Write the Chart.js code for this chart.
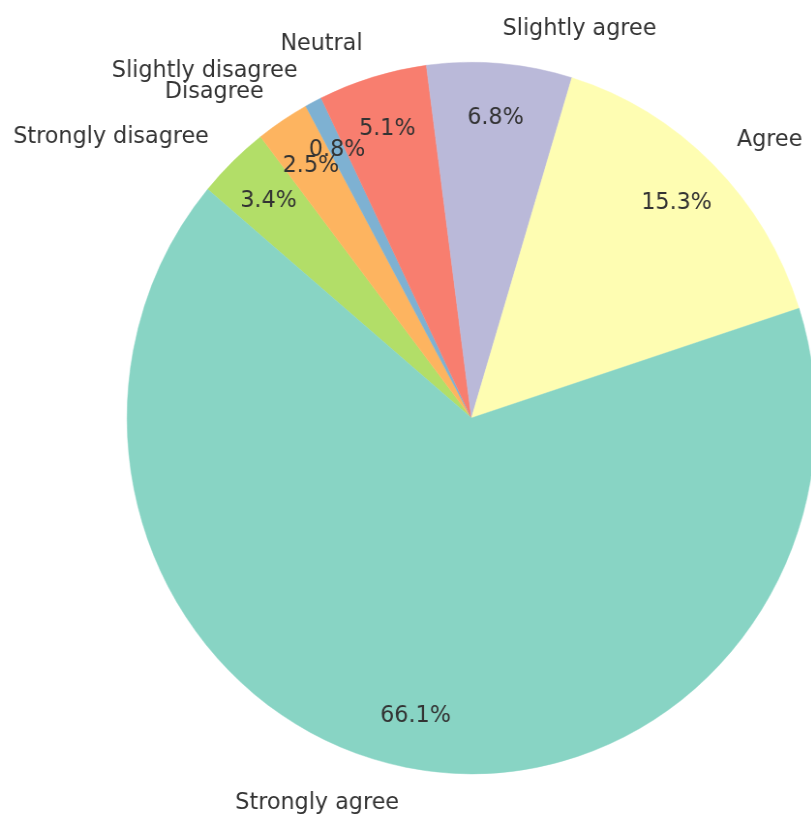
<!DOCTYPE html>
<html>
<head>
<meta charset="utf-8">
<script src="https://cdn.jsdelivr.net/npm/chart.js@4.4.0/dist/chart.umd.min.js"></script>
<style>
  html, body { margin: 0; padding: 0; overflow: hidden; background: #fff; }
  /* the reference is squeezed a little horizontally, so the canvas is too */
  #wrap { position: absolute; left: 0; top: 0; width: 846px; height: 818px;
          transform: scaleX(0.968); transform-origin: 0 0; }
</style>
</head>
<body>
<div id="wrap"><canvas id="pieChart"></canvas></div>
<script>
// categories and shares (%) in the order the plotting library listed them
const categories = ['Strongly agree', 'Agree', 'Slightly agree', 'Neutral',
                    'Slightly disagree', 'Disagree', 'Strongly disagree'];
const shares = [66.1, 15.3, 6.8, 5.1, 0.8, 2.5, 3.4];
const sliceColors = ['#88d4c4', '#fefdb2', '#bab9d9', '#f87e6f',
                     '#7eb1d2', '#fdb460', '#b2de68'];

// original went counter-clockwise, Chart.js goes clockwise -> reverse
const labels = categories.slice().reverse();
const values = shares.slice().reverse();
const colors = sliceColors.slice().reverse();

const total = values.reduce((a, b) => a + b, 0);
const textFont = '23px "DejaVu Sans", sans-serif';
const textColor = '#333333';

// outer category labels + percentages inside the slices
const pieText = {
  id: 'pieText',
  afterDatasetsDraw(chart) {
    const ctx = chart.ctx;
    const arcs = chart.getDatasetMeta(0).data;
    ctx.save();
    ctx.font = textFont;
    ctx.fillStyle = textColor;
    ctx.textBaseline = 'middle';
    arcs.forEach((arc, i) => {
      const p = arc.getProps(['x', 'y', 'startAngle', 'endAngle', 'outerRadius'], true);
      const mid = (p.startAngle + p.endAngle) / 2;
      const cos = Math.cos(mid), sin = Math.sin(mid);

      const lx = p.x + cos * p.outerRadius * 1.1;
      const ly = p.y + sin * p.outerRadius * 1.1;
      ctx.textAlign = lx > p.x ? 'left' : 'right';
      ctx.fillText(labels[i], lx, ly + 1);

      const px = p.x + cos * p.outerRadius * 0.85;
      const py = p.y + sin * p.outerRadius * 0.85;
      ctx.textAlign = 'center';
      ctx.fillText((values[i] / total * 100).toFixed(1) + '%', px, py + 1);
    });
    ctx.restore();
  }
};

new Chart(document.getElementById('pieChart'), {
  type: 'pie',
  data: {
    labels: labels,
    datasets: [{
      data: values,
      backgroundColor: colors,
      borderColor: colors,
      borderWidth: 0.5
    }]
  },
  options: {
    responsive: true,
    maintainAspectRatio: false,
    animation: false,
    rotation: -50,
    layout: { padding: { left: 131, right: 3, top: 62, bottom: 44 } },
    plugins: {
      legend: { display: false },
      tooltip: { enabled: false }
    }
  },
  plugins: [pieText]
});
</script>
</body>
</html>
